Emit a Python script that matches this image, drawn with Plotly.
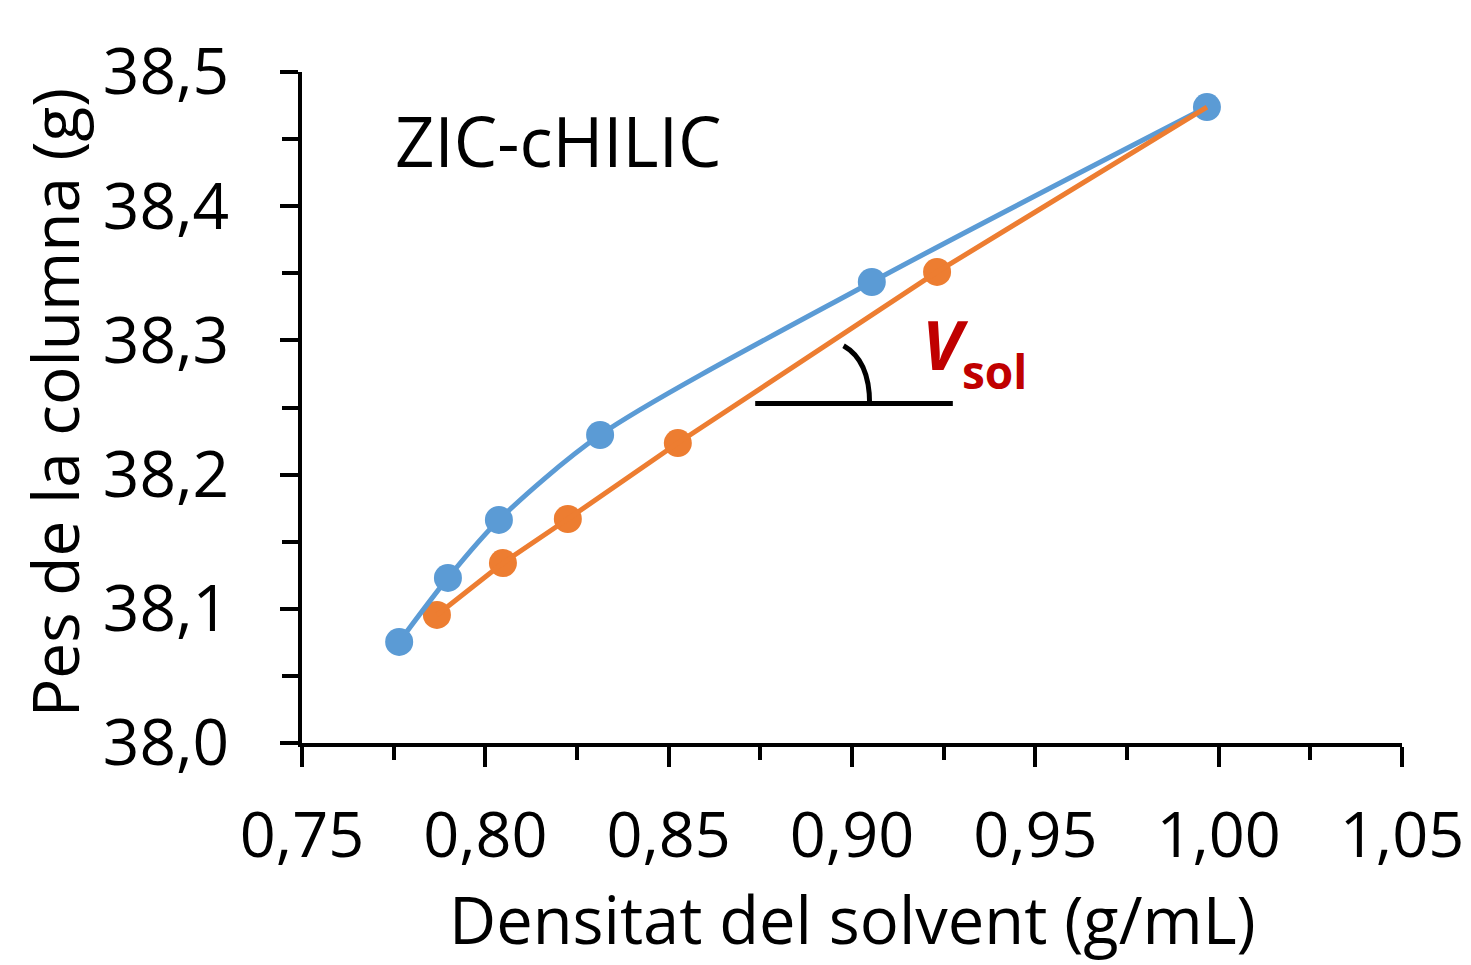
import plotly.graph_objects as go

# Data
blue_x = [0.7765, 0.7898, 0.8037, 0.8313, 0.9054, 0.9968]
blue_y = [38.0753, 38.1230, 38.1662, 38.2295, 38.3435, 38.4739]
orange_x = [0.7868, 0.8048, 0.8225, 0.8525, 0.9232, 0.9968]
orange_y = [38.0954, 38.1341, 38.1669, 38.2235, 38.3510, 38.4739]
orange_marker_sizes = [28, 28, 28, 28, 28, 0]

x_ticks = [0.75, 0.80, 0.85, 0.90, 0.95, 1.00, 1.05]
y_ticks = [38.0, 38.1, 38.2, 38.3, 38.4, 38.5]

BLUE = "#5B9BD5"
ORANGE = "#ED7D31"
DARKRED = "#C00000"
FONT = "Open Sans"

fig = go.Figure()

# orange markers (below blue)
fig.add_trace(go.Scatter(
    x=orange_x, y=orange_y, mode="markers",
    marker=dict(color=ORANGE, size=orange_marker_sizes, opacity=1, line=dict(width=0)),
    showlegend=False, hoverinfo="skip"))
# blue smoothed line + markers
fig.add_trace(go.Scatter(
    x=blue_x, y=blue_y, mode="lines+markers",
    line=dict(color=BLUE, width=5, shape="spline", smoothing=0.8),
    marker=dict(color=BLUE, size=28, opacity=1, line=dict(width=0)),
    showlegend=False))
# orange line on top
fig.add_trace(go.Scatter(
    x=orange_x, y=orange_y, mode="lines",
    line=dict(color=ORANGE, width=5),
    showlegend=False))

# angle annotation (horizontal line + arc), in data coordinates
h_x0, h_x1, h_y = 0.8736, 0.9275, 38.253
arc_p0 = (0.8977, 38.296)
arc_c = (0.9048, 38.285)
arc_p2 = (0.9048, 38.253)
fig.add_shape(type="line", xref="x", yref="y", x0=h_x0, x1=h_x1, y0=h_y, y1=h_y,
              line=dict(color="black", width=5))
fig.add_shape(type="path", xref="x", yref="y",
              path=f"M {arc_p0[0]},{arc_p0[1]} Q {arc_c[0]},{arc_c[1]} {arc_p2[0]},{arc_p2[1]}",
              line=dict(color="black", width=5))

fig.add_annotation(x=0.7749, y=38.449, xref="x", yref="y", text="ZIC-cHILIC",
                   showarrow=False, xanchor="left", yanchor="middle",
                   font=dict(family=FONT, size=69, color="black"))
fig.add_annotation(x=0.9186, y=38.298, xref="x", yref="y", text="<b><i>V</i></b>",
                   showarrow=False, xanchor="left", yanchor="middle",
                   font=dict(family=FONT, size=68, color=DARKRED))
fig.add_annotation(x=0.9295, y=38.2775, xref="x", yref="y", text="<b>sol</b>",
                   showarrow=False, xanchor="left", yanchor="middle",
                   font=dict(family=FONT, size=46, color=DARKRED))

# axis titles
fig.add_annotation(x=0.5, y=-0.262, xref="paper", yref="paper", text="Densitat del solvent (g/mL)",
                   showarrow=False, xanchor="center", yanchor="middle",
                   font=dict(family=FONT, size=65, color="black"))
fig.add_annotation(x=-0.225, y=0.507, xref="paper", yref="paper", text="Pes de la columna (g)",
                   showarrow=False, xanchor="center", yanchor="middle", textangle=-90,
                   font=dict(family=FONT, size=64, color="black"))

fig.update_layout(
    width=1463, height=957,
    margin=dict(l=294, r=69, t=64, b=222),
    plot_bgcolor="white", paper_bgcolor="white",
    separators=", ",
    font=dict(family=FONT, color="black"),
)
fig.update_xaxes(
    range=[0.75, 1.05], tickvals=x_ticks, tickformat=".2f",
    showgrid=False, zeroline=False, automargin=False,
    showline=True, linecolor="black", linewidth=4,
    ticks="outside", ticklen=20, tickwidth=4, tickcolor="black",
    minor=dict(dtick=0.025, ticks="outside", ticklen=13, tickwidth=4, tickcolor="black", showgrid=False),
    tickfont=dict(family=FONT, size=63, color="black"),
    ticklabelstandoff=14,
)
fig.update_yaxes(
    range=[38.0, 38.5], tickvals=y_ticks, tickformat=".1f",
    showgrid=False, zeroline=False, automargin=False,
    showline=True, linecolor="black", linewidth=4,
    ticks="outside", ticklen=18, tickwidth=4, tickcolor="black",
    minor=dict(dtick=0.05, ticks="outside", ticklen=16, tickwidth=4, tickcolor="black", showgrid=False),
    tickfont=dict(family=FONT, size=64, color="black"),
    ticklabelstandoff=38,
)

fig.write_html("out.html")
